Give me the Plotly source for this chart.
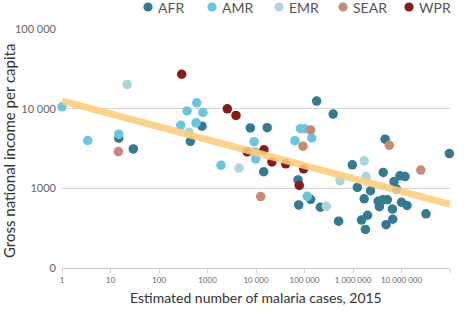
import plotly.graph_objects as go

# ---- data ----
regions = ["AFR", "AMR", "EMR", "SEAR", "WPR"]

afr_cases = [29.5, 14.8, 443, 770, 7640, 17000, 14400, 178000, 390000, 73600,
             970000, 1.23e6, 134000, 76000, 212000, 505000, 4.6e6, 9.7e7, 4.2e6, 9.3e6,
             1.18e7, 7.0e6, 7.9e6, 2.3e6, 1.7e6, 3.3e6, 4.1e6, 5.1e6, 3.5e6, 6.5e6,
             1.0e7, 1.3e7, 3.2e7, 2.0e6, 1.5e6, 6.6e6, 4.8e6, 1.8e6]
afr_gni = [3130, 4270, 3910, 6060, 5760, 5800, 1620, 12500, 8600, 1280,
           1980, 1030, 730, 620, 580, 387, 4150, 2740, 1590, 1440,
           1410, 1220, 980, 935, 740, 690, 720, 720, 590, 550,
           670, 610, 480, 460, 400, 410, 350, 305]

amr_cases = [1, 3.4, 14.8, 600, 380, 807, 280, 580, 9100, 9830, 9500, 1900,
             82600, 100000, 63500, 141000, 114000]
amr_gni = [10600, 4000, 4800, 11900, 9400, 9000, 6200, 6680, 3870, 2350, 2870, 1960,
           5620, 5620, 3980, 4300, 795]

emr_cases = [22, 415, 4460, 540000, 282000, 1.7e6, 1.86e6]
emr_gni = [20200, 5070, 1800, 1250, 595, 2220, 1410]

sear_cases = [14.5, 12500, 134000, 93000, 5.6e6, 2.5e7]
sear_gni = [2900, 790, 5420, 3390, 3480, 1700]

wpr_cases = [294, 2560, 3870, 6600, 14600, 21300, 41000, 96000, 78000]
wpr_gni = [27200, 10000, 8270, 2880, 3050, 2150, 2040, 1760, 1090]

trend_cases = [1, 1e8]
trend_gni = [12600, 630]

x_tickvals = [1, 10, 100, 1000, 1e4, 1e5, 1e6, 1e7, 1e8]
x_ticktext = ["1", "10", "100", "1000", "10 000", "100 000", "1 000 000",
              "10 000 000", "100 000 000"]
y_tickvals = [100, 1000, 10000, 100000]
y_ticktext = ["0", "1000", "10 000", "100 000"]

# ---- styling ----
colors = {"AFR": "#357a90", "AMR": "#6cc5e0", "EMR": "#aed6d8",
          "SEAR": "#c68b76", "WPR": "#8a1c17"}
series = {"AFR": (afr_cases, afr_gni), "AMR": (amr_cases, amr_gni),
          "EMR": (emr_cases, emr_gni), "SEAR": (sear_cases, sear_gni),
          "WPR": (wpr_cases, wpr_gni)}

W, H = 473, 311
L, R, T, B = 62, 23, 29, 43
PW, PH = W - L - R, H - T - B
FONT = "Lato"

fig = go.Figure()
for reg in regions:
    xs, ys = series[reg]
    fig.add_trace(go.Scatter(x=xs, y=ys, mode="markers", name=reg,
                             marker=dict(size=9.5, color=colors[reg], line=dict(width=0)),
                             cliponaxis=False, showlegend=False))

fig.add_trace(go.Scatter(x=trend_cases, y=trend_gni, mode="lines",
                         line=dict(color="rgba(252,205,125,0.88)", width=7),
                         showlegend=False, cliponaxis=False))

# custom legend (marker circles + text)
leg_px = [148, 212, 279, 343, 409]
leg_py = 7
shapes, annotations = [], []
r = 4.6
for reg, px in zip(regions, leg_px):
    shapes.append(dict(type="circle", xref="paper", yref="paper",
                       x0=(px - r - L) / PW, x1=(px + r - L) / PW,
                       y0=(H - B - leg_py - r) / PH, y1=(H - B - leg_py + r) / PH,
                       fillcolor=colors[reg], line=dict(width=0)))
    annotations.append(dict(text=reg, xref="paper", yref="paper",
                            x=(px + 8 - L) / PW, y=(H - B - leg_py) / PH,
                            xanchor="left", yanchor="middle", showarrow=False,
                            font=dict(family=FONT, size=14, color="#555555")))

# axis titles as annotations for precise placement
annotations.append(dict(text="Gross national income per capita", xref="paper", yref="paper",
                        x=(9 - L) / PW, y=((H - B) - 151) / PH,
                        xanchor="center", yanchor="middle", textangle=-90, showarrow=False,
                        font=dict(family=FONT, size=15, color="#333333")))
annotations.append(dict(text="Estimated number of malaria cases, 2015", xref="paper", yref="paper",
                        x=0.5, y=-(297 - (H - B)) / PH, xanchor="center", yanchor="middle",
                        showarrow=False, font=dict(family=FONT, size=14, color="#333333")))

fig.update_layout(
    width=W, height=H,
    margin=dict(l=L, r=R, t=T, b=B, autoexpand=False),
    paper_bgcolor="white", plot_bgcolor="white",
    shapes=shapes, annotations=annotations,
    font=dict(family=FONT, color="#555555"),
    hovermode=False,
    xaxis=dict(type="log", range=[0, 8], tickvals=x_tickvals, ticktext=x_ticktext,
               showgrid=False, zeroline=False, showline=True, linecolor="#cfcfcf",
               linewidth=1, ticks="outside", ticklen=4, tickcolor="#cfcfcf",
               automargin=False,
               tickfont=dict(family=FONT, size=8, color="#666666")),
    yaxis=dict(type="log", range=[2, 5.003], tickvals=y_tickvals, ticktext=y_ticktext,
               showgrid=True, gridcolor="#d6d6d6", gridwidth=1, zeroline=False,
               showline=False, ticks="", ticklen=0, automargin=False,
               ticklabelstandoff=5,
               tickfont=dict(family=FONT, size=11, color="#666666")),
)

fig.write_html("out.html", config={"displayModeBar": False, "staticPlot": True},
               post_script="document.body.style.margin='0';document.body.style.overflow='hidden';")
